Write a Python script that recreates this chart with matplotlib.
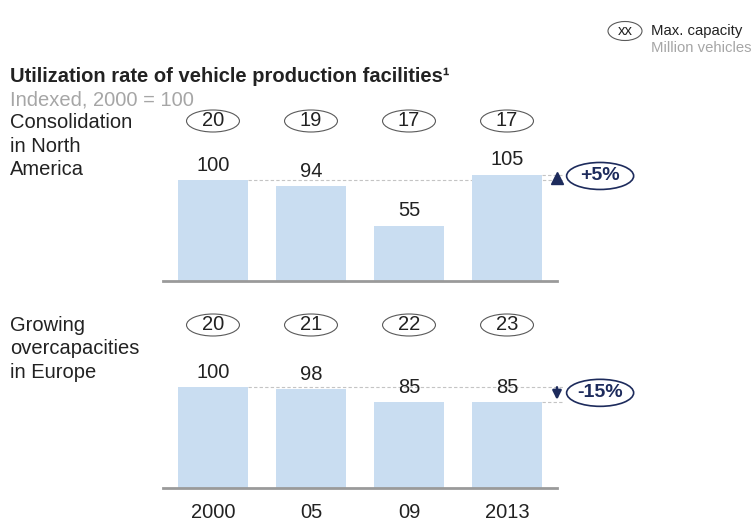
import numpy as np
import matplotlib.pyplot as plt
from matplotlib.patches import Ellipse

plt.rcParams['font.family'] = ['Liberation Sans', 'DejaVu Sans']

# data
years = ['2000', '05', '09', '2013']
na_index = [100, 94, 55, 105]
na_capacity = [20, 19, 17, 17]
eu_index = [100, 98, 85, 85]
eu_capacity = [20, 21, 22, 23]
na_change = '+5%'
eu_change = '-15%'

BAR = '#c9ddf1'
TEXT = '#222222'
GREY = '#a6a6a6'
NAVY = '#1d2b5c'
W, H = 754, 521
SCALE = 1.007          # pixels per index point
YMAX = 176 / SCALE

fig = plt.figure(figsize=(W / 100, H / 100), dpi=100)


def px_axes(left, top, right, bottom):
    return fig.add_axes([left / W, 1 - bottom / H, (right - left) / W, (bottom - top) / H])


def panel(ax, index, capacity, change, cap_y):
    x = np.arange(len(index))
    ax.bar(x, index, width=0.714, color=BAR, zorder=2)
    ax.set_xlim(-0.51, 3.51)
    ax.set_ylim(0, YMAX)
    for s in ['top', 'right', 'left']:
        ax.spines[s].set_visible(False)
    ax.spines['bottom'].set_color('#9a9a9a')
    ax.spines['bottom'].set_linewidth(2)
    ax.spines['bottom'].set_zorder(3)
    ax.set_yticks([])
    ax.tick_params(length=0)

    for xi, v in zip(x, index):
        ax.annotate(str(v), (xi, v), xytext=(0, 11), textcoords='offset points',
                    ha='center', va='center', fontsize=14.5, color=TEXT)
    for xi, c in zip(x, capacity):
        ax.add_patch(Ellipse((xi, cap_y), 0.54, 22 / SCALE, fc='white', ec='#5a5a5a',
                             lw=0.8, clip_on=False))
        ax.text(xi, cap_y, str(c), ha='center', va='center', fontsize=14.5, color=TEXT)

    # dashed reference lines
    start, end = index[0], index[-1]
    ax.plot([x[0] + 0.357, 3.57], [start, start], ls=(0, (3, 2)), color='#c4c4c4',
            lw=0.8, zorder=1, clip_on=False)
    ax.plot([x[-1] + 0.357, 3.57], [end, end], ls=(0, (3, 2)), color='#c4c4c4',
            lw=0.8, zorder=1, clip_on=False)

    if end > start:
        ax.plot([3.51], [(start + end) / 2], marker='^', ms=8, color=NAVY,
                clip_on=False, zorder=4)
        ey = end - 0.7
    else:
        ax.annotate('', xy=(3.51, end + 2.5), xytext=(3.51, start),
                    arrowprops=dict(arrowstyle='-|>', color=NAVY, lw=1.8,
                                    mutation_scale=13, shrinkA=0, shrinkB=0),
                    annotation_clip=False)
        ey = (start + end) / 2 + 2
    ax.add_patch(Ellipse((3.95, ey), 0.684, 27 / SCALE, fc='white', ec=NAVY,
                         lw=1.2, clip_on=False, zorder=4))
    ax.text(3.95, ey, change, ha='center', va='center', fontsize=14,
            fontweight='bold', color=NAVY, zorder=5)
    return x


ax1 = px_axes(163, 105, 557, 281)
x = panel(ax1, na_index, na_capacity, na_change, 160 / SCALE)
ax1.set_xticks([])

ax2 = px_axes(163, 312, 557, 488)
x = panel(ax2, eu_index, eu_capacity, eu_change, 163 / SCALE)
ax2.set_xticks(x, years)
ax2.tick_params(axis='x', labelsize=14.5, labelcolor=TEXT, pad=11)

# row labels
fig.text(10 / W, 1 - 146 / H, 'Consolidation\nin North\nAmerica', ha='left',
         va='center', fontsize=14.5, color=TEXT, linespacing=1.28)
fig.text(10 / W, 1 - 349 / H, 'Growing\novercapacities\nin Europe', ha='left',
         va='center', fontsize=14.5, color=TEXT, linespacing=1.28)

# title
fig.text(10 / W, 1 - 76 / H, 'Utilization rate of vehicle production facilities\u00b9',
         ha='left', va='center', fontsize=14.5, fontweight='bold', color=TEXT)
fig.text(10 / W, 1 - 100 / H, 'Indexed, 2000 = 100', ha='left', va='center',
         fontsize=14.5, color=GREY)

# legend
fig.add_artist(Ellipse((625 / W, 1 - 31 / H), 34 / W, 19 / H, transform=fig.transFigure,
                       fc='white', ec='#5a5a5a', lw=0.8))
fig.text(625 / W, 1 - 31 / H, 'xx', ha='center', va='center', fontsize=10.7, color=TEXT)
fig.text(651 / W, 1 - 31 / H, 'Max. capacity', ha='left', va='center', fontsize=10.7,
         color=TEXT)
fig.text(651 / W, 1 - 48 / H, 'Million vehicles', ha='left', va='center', fontsize=10.7,
         color=GREY)

plt.savefig('out.png', dpi=100)
